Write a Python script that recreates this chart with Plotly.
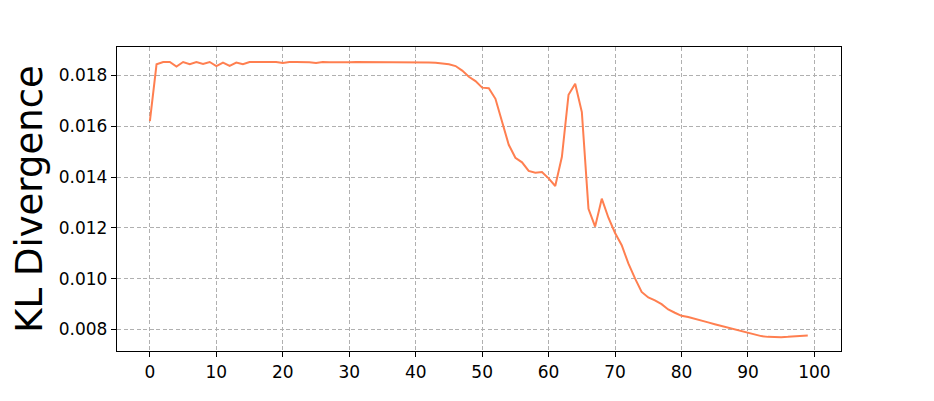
import plotly.graph_objects as go

steps = list(range(100))
kl_divergence = [
    0.01620, 0.01844, 0.01853, 0.01853, 0.01835, 0.01853, 0.01844, 0.01853, 0.01845, 0.01853,
    0.01837, 0.01851, 0.01838, 0.01851, 0.01844, 0.01853, 0.01853, 0.01853, 0.01853, 0.01853,
    0.01849, 0.01853, 0.01853, 0.01853, 0.01852, 0.01849, 0.01853, 0.01852, 0.01853, 0.01853,
    0.01852, 0.01853, 0.01853, 0.01853, 0.01853, 0.01853, 0.01853, 0.01852, 0.01852, 0.01852,
    0.01851, 0.01851, 0.01851, 0.01850, 0.01848, 0.01844, 0.01837, 0.01819, 0.01795, 0.01778,
    0.01752, 0.01750, 0.01708, 0.01615, 0.01527, 0.01476, 0.01458, 0.01424, 0.01417, 0.01420,
    0.01395, 0.01365, 0.01480, 0.01724, 0.01767, 0.01656, 0.01275, 0.01205, 0.01315, 0.01240,
    0.01180, 0.01132, 0.01060, 0.01001, 0.00948, 0.00926, 0.00915, 0.00900, 0.00879, 0.00866,
    0.00854, 0.00849, 0.00843, 0.00835, 0.00828, 0.00821, 0.00814, 0.00809, 0.00803, 0.00796,
    0.00787, 0.00779, 0.00774, 0.00771, 0.00770, 0.00770, 0.00771, 0.00772, 0.00774, 0.00776,
]
x_ticks = list(range(0, 101, 10))
y_ticks = [0.008, 0.010, 0.012, 0.014, 0.016, 0.018]

fig = go.Figure()
fig.add_trace(
    go.Scatter(
        x=steps,
        y=kl_divergence,
        mode="lines",
        line=dict(color="#FF7F50", width=2),
        showlegend=False,
    )
)

axis_style = dict(
    showline=True,
    linecolor="black",
    linewidth=1.3,
    mirror=True,
    ticks="outside",
    ticklen=5,
    tickwidth=1.3,
    tickcolor="black",
    showgrid=True,
    gridcolor="#b0b0b0",
    griddash="4px,2.5px",
    gridwidth=1,
    zeroline=False,
    automargin=False,
    tickfont=dict(family="DejaVu Sans", size=17, color="black"),
)

fig.update_xaxes(
    range=[-4.95, 104.0],
    tickvals=x_ticks,
    **axis_style,
)
fig.update_yaxes(
    range=[0.007154, 0.01912],
    tickvals=y_ticks,
    tickformat=".3f",
    title=dict(
        text="KL Divergence",
        font=dict(family="DejaVu Sans", size=37, color="black"),
        standoff=22,
    ),
    **axis_style,
)

# the page adds an 8px body margin, so the margins are shifted to compensate
fig.update_layout(
    width=934,
    height=401,
    margin=dict(l=109, r=101, t=39, b=58),
    plot_bgcolor="white",
    paper_bgcolor="white",
)

fig.write_html("out.html")
